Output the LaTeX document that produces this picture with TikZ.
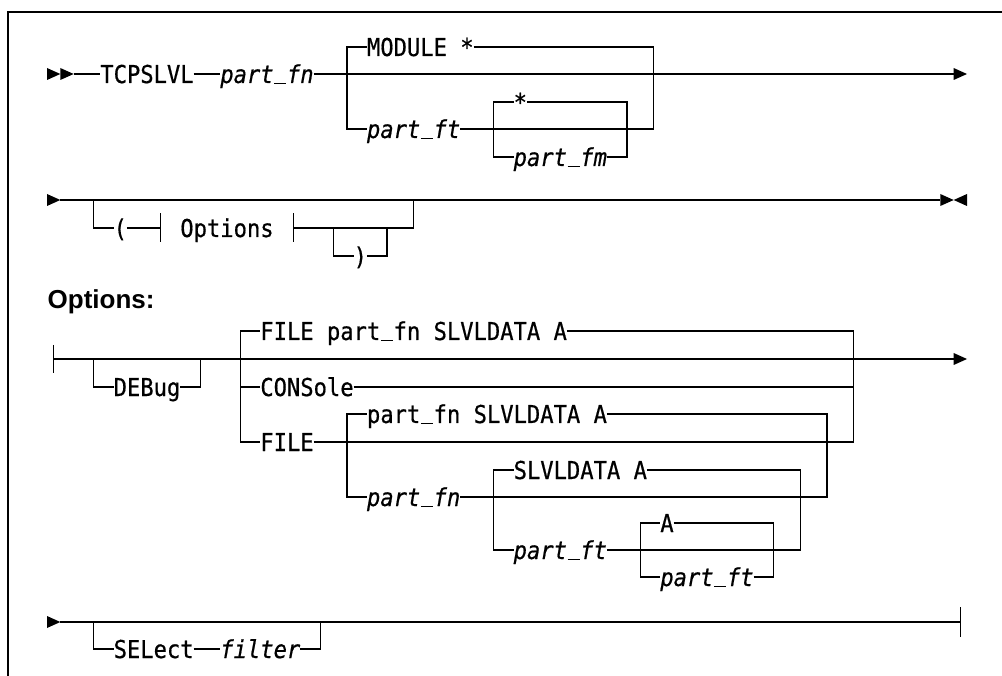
\documentclass[tikz,border=0pt]{standalone}
\usepackage{fontspec}
\newfontfamily\monofam[FakeStretch=0.9,FakeBold=0.6]{DejaVu Sans Mono}
\newfontfamily\headfam{Liberation Sans}
\newcommand\us{\hbox to 13.3333pt{\hss\rule[-1.2pt]{12pt}{1.6pt}\hss}}
\tikzset{
  lbl/.style={anchor=west, inner sep=0pt, outer sep=0pt, text height=18pt, text depth=0pt,
              font=\monofam\fontsize{24.6}{28}\selectfont},
  var/.style={lbl, font=\monofam\fontsize{24.6}{28}\selectfont\itshape},
  rail/.style={line width=1.3pt, line join=miter},
  tip/.style={fill=black, draw=none}
}
\begin{document}
\begin{tikzpicture}
\useasboundingbox (0,0) rectangle (1002pt,-676pt);
% frame
\draw[line width=1.3pt] (1002pt,-12pt) -- (8pt,-12pt) -- (8pt,-676pt);
\begin{scope}[shift={(47pt,0pt)}, x=13.3333pt, y=-1pt, rail]
% ---------------- Row 1 ----------------
\fill[tip] (0,68) -- (1,74) -- (0,80) -- cycle;
\fill[tip] (1,68) -- (2,74) -- (1,80) -- cycle;
\coordinate (s1) at (2,74);
\node[lbl] (tcp) at (4,74) {TCPSLVL};
\node[var] (pfn1) at (13,74) {part\us fn};
\coordinate (e1) at (68,74);
\fill[tip] (68,68) -- (69,74) -- (68,80) -- cycle;
\coordinate (jA1) at (22.5,74);
\coordinate (jA2) at (45.5,74);
\draw (s1) -- (tcp.west);
\draw (tcp.east) -- (pfn1.west);
\draw (pfn1.east) -- (e1);
\node[lbl] (mod) at (24,47) {MODULE *};
\node[var] (pft1) at (24,129) {part\us ft};
\coordinate (jB1) at (33.5,129);
\coordinate (jB2) at (43.5,129);
\draw (jA1) |- (mod.west);
\draw (mod.east) -| (jA2);
\draw (jA1) |- (pft1.west);
\draw (pft1.east) -- (jB1) -- (jB2) -| (jA2);
\node[lbl] (star) at (35,102) {*};
\node[var] (pfm) at (35,157) {part\us fm};
\draw (jB1) |- (star.west);
\draw (star.east) -| (jB2);
\draw (jB1) |- (pfm.west);
\draw (pfm.east) -| (jB2);
% ---------------- Row 2 ----------------
\fill[tip] (0,194) -- (1,200) -- (0,206) -- cycle;
\coordinate (s2) at (1,200);
\coordinate (e2) at (67,200);
\fill[tip] (67,194) -- (68,200) -- (67,206) -- cycle;
\fill[tip] (69,194) -- (68,200) -- (69,206) -- cycle;
\draw (s2) -- (e2);
\coordinate (jC1) at (3.5,200);
\coordinate (jC2) at (27.5,200);
\node[lbl] (lp) at (5,228) {(};
\coordinate (tk1) at (8.5,228);
\node[lbl] (opt) at (10,228) {Options};
\coordinate (tk2) at (18.5,228);
\coordinate (jD1) at (21.5,228);
\coordinate (jD2) at (25.5,228);
\node[lbl] (rp) at (23,256) {)};
\draw (jC1) |- (lp.west);
\draw (lp.east) -- (tk1);
\draw (8.5,213.5) -- (8.5,242.5);
\draw (18.5,213.5) -- (18.5,242.5);
\draw (tk2) -- (jD1) -- (jD2) -| (jC2);
\draw (jD1) |- (rp.west);
\draw (rp.east) -| (jD2);
% ---------------- Options ----------------
\node[anchor=base west, inner sep=0pt, font=\headfam\bfseries\fontsize{26}{30}\selectfont] (opthead) at (0,309) {Options:};
\draw (0.5,345) -- (0.5,373);
\coordinate (s3) at (0.5,359);
\coordinate (e3) at (68,359);
\fill[tip] (68,353) -- (69,359) -- (68,365) -- cycle;
\draw (s3) -- (e3);
\coordinate (jE1) at (3.5,359);
\coordinate (jE2) at (11.5,359);
\node[lbl] (dbg) at (5,387) {DEBug};
\draw (jE1) |- (dbg.west);
\draw (dbg.east) -| (jE2);
\coordinate (jF1) at (14.5,359);
\coordinate (jF2) at (60.5,359);
\node[lbl] (f1) at (16,331) {FILE part\us fn SLVLDATA A};
\node[lbl] (con) at (16,387) {CONSole};
\node[lbl] (fil) at (16,442) {FILE};
\coordinate (jG1) at (22.5,442);
\coordinate (jG2) at (58.5,442);
\draw (jF1) |- (f1.west);
\draw (f1.east) -| (jF2);
\draw (jF1) |- (con.west);
\draw (con.east) -| (jF2);
\draw (jF1) |- (fil.west);
\draw (fil.east) -- (jG1) -- (jG2) -| (jF2);
\node[lbl] (g1) at (24,414) {part\us fn SLVLDATA A};
\node[var] (g2) at (24,497) {part\us fn};
\coordinate (jH1) at (33.5,497);
\coordinate (jH2) at (56.5,497);
\draw (jG1) |- (g1.west);
\draw (g1.east) -| (jG2);
\draw (jG1) |- (g2.west);
\draw (g2.east) -- (jH1) -- (jH2) -| (jG2);
\node[lbl] (h1) at (35,470) {SLVLDATA A};
\node[var] (h2) at (35,550) {part\us ft};
\coordinate (jI1) at (44.5,550);
\coordinate (jI2) at (54.5,550);
\draw (jH1) |- (h1.west);
\draw (h1.east) -| (jH2);
\draw (jH1) |- (h2.west);
\draw (h2.east) -- (jI1) -- (jI2) -| (jH2);
\node[lbl] (i1) at (46,523) {A};
\node[var] (i2) at (46,577) {part\us ft};
\draw (jI1) |- (i1.west);
\draw (i1.east) -| (jI2);
\draw (jI1) |- (i2.west);
\draw (i2.east) -| (jI2);
% ---------------- Last row ----------------
\fill[tip] (0,616) -- (1,622) -- (0,628) -- cycle;
\coordinate (s4) at (1,622);
\coordinate (e4) at (68.5,622);
\draw (s4) -- (e4);
\draw (68.5,607) -- (68.5,637);
\coordinate (jJ1) at (3.5,622);
\coordinate (jJ2) at (20.5,622);
\node[lbl] (sel) at (5,649) {SELect};
\node[var] (flt) at (13,649) {filter};
\draw (jJ1) |- (sel.west);
\draw (sel.east) -- (flt.west);
\draw (flt.east) -| (jJ2);
\end{scope}
\end{tikzpicture}
\end{document}
